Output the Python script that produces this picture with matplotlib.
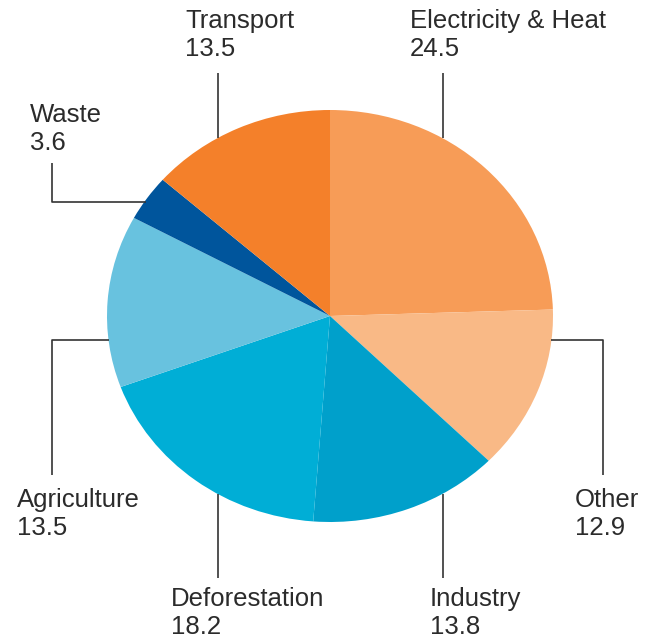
import numpy as np
import matplotlib.pyplot as plt

# greenhouse gas emissions by sector (%)
sectors = ['Electricity & Heat', 'Other', 'Industry', 'Deforestation',
           'Agriculture', 'Waste', 'Transport']
values = [24.5, 12.9, 13.8, 18.2, 13.5, 3.6, 13.5]
colors = ['#F79C57', '#F9B986', '#00A0CB', '#00AED6',
          '#68C2DF', '#00559C', '#F4802A']

W, H = 653, 642
cx, cy = 330, 316      # pie centre in pixels (from top-left)
rx, ry = 223, 206      # pie is a bit squashed

fig = plt.figure(figsize=(W / 100, H / 100), dpi=100)
ax = fig.add_axes([0, 0, 1, 1])

ax.pie(values, colors=colors, startangle=90, counterclock=False,
       radius=1, center=(0, 0), wedgeprops=dict(linewidth=0))
ax.set_aspect('auto')
ax.set_xlim(-cx / rx, (W - cx) / rx)
ax.set_ylim(-(H - cy) / ry, cy / ry)
ax.axis('off')


def px(x, y):
    # pixel position -> data coords
    return (x - cx) / rx, (cy - y) / ry


def edge_y(x, top=True):
    # y pixel where a vertical line at x meets the pie edge
    t = np.sqrt(max(0.0, 1 - ((x - cx) / rx) ** 2))
    return cy - ry * t if top else cy + ry * t


def edge_x(y, left=True):
    t = np.sqrt(max(0.0, 1 - ((y - cy) / ry) ** 2))
    return cx - rx * t if left else cx + rx * t


# leader lines (pixel paths) and text positions
leaders = {
    'Electricity & Heat': [(443, 73), (443, edge_y(443))],
    'Transport': [(218, 73), (218, edge_y(218))],
    'Waste': [(52, 163), (52, 202), (edge_x(202) + 2, 202)],
    'Agriculture': [(edge_x(340), 340), (52, 340), (52, 475)],
    'Deforestation': [(218, edge_y(218, False)), (218, 578)],
    'Industry': [(443, edge_y(443, False)), (443, 578)],
    'Other': [(edge_x(340, False), 340), (603, 340), (603, 475)],
}
text_pos = {
    'Electricity & Heat': (410, 9),
    'Transport': (185, 9),
    'Waste': (30, 103),
    'Agriculture': (17, 488),
    'Deforestation': (171, 587),
    'Industry': (430, 587),
    'Other': (575, 488),
}

for name, val in zip(sectors, values):
    pts = [px(x, y) for x, y in leaders[name]]
    xs, ys = zip(*pts)
    ax.plot(xs, ys, color='#333333', lw=1.2, solid_capstyle='butt')
    tx, ty = px(*text_pos[name])
    ax.text(tx, ty, f'{name}\n{val}', ha='left', va='top',
            fontsize=18.5, family='Liberation Sans', color='#2b2b2b',
            linespacing=1.22)

fig.savefig('out.png', dpi=100)
